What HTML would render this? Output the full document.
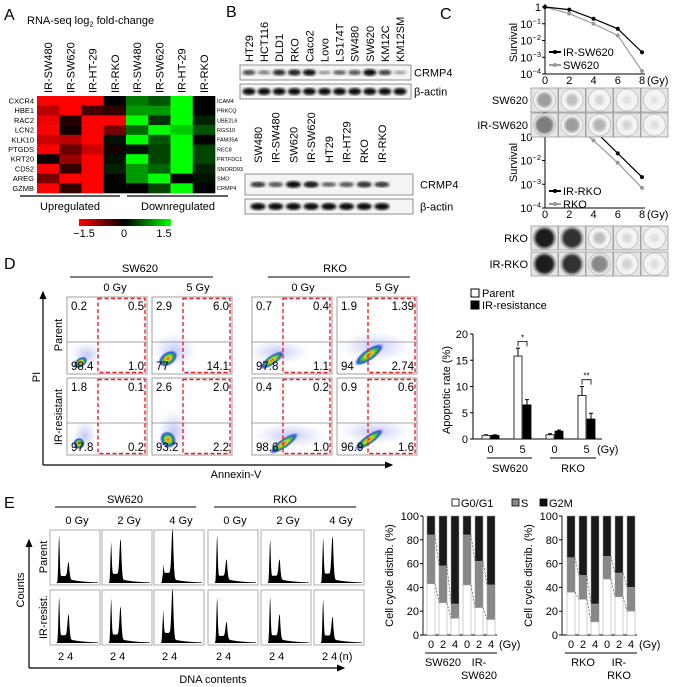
<!DOCTYPE html>
<html><head><meta charset="utf-8">
<style>
html,body{margin:0;padding:0;background:#fff;}
svg{display:block;font-family:"Liberation Sans",sans-serif;}
</style></head>
<body>
<svg id="fig" width="677" height="687" viewBox="0 0 677 687" xmlns="http://www.w3.org/2000/svg">
<defs>
<filter id="blur1"><feGaussianBlur stdDeviation="1.2"/></filter>
<filter id="blur2"><feGaussianBlur stdDeviation="2"/></filter>
<radialGradient id="flowg"><stop offset="0" stop-color="#e03010"/><stop offset="0.25" stop-color="#f0d020"/><stop offset="0.5" stop-color="#30c040"/><stop offset="0.75" stop-color="#3050e0"/><stop offset="1" stop-color="#8090f0" stop-opacity="0"/></radialGradient>
<radialGradient id="flowb"><stop offset="0" stop-color="#5060e0" stop-opacity="0.35"/><stop offset="1" stop-color="#8090f0" stop-opacity="0"/></radialGradient>
<linearGradient id="cbar" x1="0" x2="1"><stop offset="0" stop-color="#ff0000"/><stop offset="0.5" stop-color="#000"/><stop offset="1" stop-color="#00ff00"/></linearGradient>
<marker id="arr" markerWidth="8" markerHeight="8" refX="6" refY="4" orient="auto"><path d="M0,1 L7,4 L0,7 Z" fill="#000"/></marker>
</defs>
<g id="root"></g>
</svg>
<script>
// ===== Panel A data =====
const hmCols = ["IR-SW480","IR-SW620","IR-HT-29","IR-RKO","IR-SW480","IR-SW620","IR-HT-29","IR-RKO"];
const hmRowsUp = ["CXCR4","HBE1","RAC2","LCN2","KLK10","PTGDS","KRT20","CD52","AREG","GZMB"];
const hmRowsDown = ["ICAM4","PRKCQ","UBE2L6","RGS10","FAM35A","REC8","PRTFDC1","SNORD93","SMO","CRMP4"];
const hmValues = [
 [-1.5,-1.5,-1.5,0, 0.7,0.5,1.5,0],
 [-1.1,-1.5,-0.4,-0.3, 0.9,0.9,1.5,0],
 [-1.4,-0.2,-1.5,-1.5, 1.5,0.3,1.5,0.2],
 [-1.5,-0.1,-1.5,-0.7, 0.6,1.5,1.2,0.5],
 [-1.2,-1.1,-1.5,0.1, 1.5,0.5,1.5,0],
 [-1.5,-0.6,-1.2,-0.1, 0.1,0.4,1.5,0.4],
 [-0.1,-0.9,-1.5,0.1, 1.5,0.4,1.5,0.4],
 [-1.5,-0.3,-1.5,0.2, 0.9,0.6,1.5,0.2],
 [-0.7,-1.5,-1.5,0, 0.9,1.5,0,0.1],
 [-1.5,-0.3,-1.5,0, 0,0.4,1.5,0]
];
// ===== Panel B data =====
const blot1Lanes = ["HT29","HCT116","DLD1","RKO","Caco2","Lovo","LS174T","SW480","SW620","KM12C","KM12SM"];
const blot1Crmp4 = [0.6,0.35,0.75,0.8,0.9,0.25,0.5,0.55,0.95,0.65,0.2];
const blot2Lanes = ["SW480","IR-SW480","SW620","IR-SW620","HT29","IR-HT29","RKO","IR-RKO"];
const blot2Crmp4 = [0.7,0.55,0.95,0.85,0.5,0.55,0.75,0.7];
// ===== Panel C data =====
const doseGy = [0,2,4,6,8];
const survIRSW620 = [1,0.7,0.2,0.05,0.002];
const survSW620 = [1,0.4,0.1,0.02,0.00015];
const survIRRKO = [1,0.6,0.2,0.02,0.002];
const survRKO = [1,0.5,0.07,0.008,0.0007];
const plateSW620 = [0.35,0.2,0.1,0.05,0.03];
const plateIRSW620 = [0.5,0.35,0.25,0.1,0.05];
const plateRKO = [0.95,0.85,0.2,0.08,0.05];
const plateIRRKO = [0.95,0.85,0.45,0.12,0.06];
// ===== Panel D data =====
const flowQuadrants = [
 ["0.2","0.5","98.4","1.0"],["2.9","6.0","77","14.1"],["0.7","0.4","97.8","1.1"],["1.9","1.39","94","2.74"],
 ["1.8","0.1","97.8","0.2"],["2.6","2.0","93.2","2.2"],["0.4","0.2","98.6","1.0"],["0.9","0.6","96.9","1.6"]
];
const apoGroups = ["0","5","0","5"];
const apoParent = [0.7,15.8,0.8,8.3];
const apoParentErr = [0.1,1.5,0.2,1.7];
const apoIR = [0.7,6.5,1.5,3.8];
const apoIRErr = [0.1,1.0,0.2,1.1];
const apoTicks = [0,5,10,15,20];
// ===== Panel E data =====
const histG1 = [0.95,0.75,0.2,0.95,0.85,0.85, 0.9,0.85,0.55,0.9,0.9,0.85];
const histG2 = [0.3,0.75,0.95,0.35,0.35,0.8, 0.45,0.6,0.95,0.3,0.45,0.4];
const ccDoses = ["0","2","4"];
const ccG1Left = [43,27,14,42,23,13];
const ccSLeft = [41,31,12,42,39,29];
const ccG1Right = [36,30,11,47,32,20];
const ccSRight = [29,20,15,19,20,20];
const ccTicks = [0,20,40,60,80,100];

const NS="http://www.w3.org/2000/svg";
const root=document.getElementById('root');
const FS=11;
function mk(tag,attrs,parent){const e=document.createElementNS(NS,tag);for(const k in attrs)e.setAttribute(k,attrs[k]);(parent||root).appendChild(e);return e;}
function tx(x,y,s,size,extra){const e=mk('text',Object.assign({x:x,y:y,'font-size':size,fill:'#000'},extra||{}));e.textContent=s;return e;}
function rot(x,y,s,size,anchor){return tx(x,y,s,size,{transform:`rotate(-90 ${x} ${y})`,'text-anchor':anchor||'start'});}

// ---------- Panel A ----------
let el;
el=tx(4,20,"A",16);
el=tx(27,24,"",FS);el.innerHTML='RNA-seq log<tspan font-size="7.5" dy="2.5">2</tspan><tspan dy="-2.5"> fold-change</tspan>';

const hx0=37,hy0=96,cw=22.25,rh=9.7;
hmCols.forEach((c,i)=>{el=rot(hx0+cw*i+cw/2+4,93,c,FS,'start');});
function hmColor(v){const t=Math.min(1,Math.abs(v)/1.5);const c=Math.round(255*t);return v<0?`rgb(${c},0,0)`:`rgb(0,${c},0)`;}
hmValues.forEach((row,r)=>{row.forEach((v,c)=>{el=mk('rect',{x:hx0+cw*c,y:hy0+rh*r,width:cw+0.3,height:rh+0.3,fill:hmColor(v)});
});});
hmRowsUp.forEach((g,r)=>{el=tx(hx0-3,hy0+rh*r+rh/2+2.6,g,7.5,{'text-anchor':'end'});});
hmRowsDown.forEach((g,r)=>{el=tx(hx0+cw*8+2,hy0+rh*r+rh/2+2,g,5.5,{});});
el=mk('line',{x1:20,y1:196,x2:120,y2:196,stroke:'#000','stroke-width':1.2});
el=mk('line',{x1:127,y1:196,x2:228,y2:196,stroke:'#000','stroke-width':1.2});
el=tx(70,210,"Upregulated",FS,{'text-anchor':'middle'});
el=tx(178,210,"Downregulated",FS,{'text-anchor':'middle'});
el=mk('rect',{x:79,y:219,width:92,height:7,fill:'url(#cbar)'});
el=tx(84,237,"\u22121.5",FS,{'text-anchor':'middle'});
el=tx(124,237,"0",FS,{'text-anchor':'middle'});
el=tx(164,237,"1.5",FS,{'text-anchor':'middle'});

// ---------- Panel B ----------
el=tx(226,17,"B",16);
function blot(lanes,vals,x0,step,labelY,box1,box2,lx,bw){
 lanes.forEach((l,i)=>{el=rot(x0+step*i+4,labelY,l,FS,'start');});
 el=mk('rect',{x:box1[0],y:box1[1],width:box1[2],height:box1[3],fill:'#f4f4f4',stroke:'#777','stroke-width':0.8});
 el=mk('rect',{x:box2[0],y:box2[1],width:box2[2],height:box2[3],fill:'#f4f4f4',stroke:'#777','stroke-width':0.8});
 vals.forEach((v,i)=>{const g=Math.round(200-200*v);
  el=mk('ellipse',{cx:x0+step*i,cy:box1[1]+box1[3]/2,rx:bw,ry:1.5+2*v,fill:`rgb(${g},${g},${g})`,filter:'url(#blur1)'});
  el=mk('ellipse',{cx:x0+step*i,cy:box2[1]+box2[3]/2,rx:bw,ry:3.5,fill:'#111',filter:'url(#blur1)'});});
 el=tx(lx,box1[1]+box1[3]/2+4,"CRMP4",FS);
 el=tx(lx,box2[1]+box2[3]/2+4,"\u03b2-actin",FS);
}
blot(blot1Lanes,blot1Crmp4,249,15.1,62,[240,65,171,15],[240,84,171,15],414,6.5);
blot(blot2Lanes,blot2Crmp4,258,17.7,163,[245,174,168,21],[245,199,168,15],420,7.5);

// ---------- Panel C ----------
el=tx(440,19,"C",16);
function survPlot(top,bot,s1,s2,n1,n2,legY){
 const X=d=>545+d/8*97, Y=v=>top+(-Math.log10(v))/4*(bot-top);
 el=mk('path',{d:`M545,${top-3} L545,${bot} L645,${bot}`,fill:'none',stroke:'#000','stroke-width':1});
 for(let k=0;k<=4;k++){el=mk('line',{x1:542,y1:Y(Math.pow(10,-k)),x2:545,y2:Y(Math.pow(10,-k)),stroke:'#000'});
  el=tx(541,Y(Math.pow(10,-k))+4,"",FS,{'text-anchor':'end'});el.innerHTML=k===0?'1':`10<tspan font-size="7.5" dy="-4.5">\u2212${k}</tspan>`;}
 doseGy.forEach(d=>{el=tx(X(d),bot+10,String(d),FS,{'text-anchor':'middle'});});
 el=tx(X(8)+5,bot+10,"(Gy)",FS);
 el=rot(517,(top+bot)/2+2,"Survival",FS,'middle');
 [[s2,'#999',n2],[s1,'#000',n1]].forEach(([s,c,n])=>{
  el=mk('polyline',{points:s.map((v,i)=>`${X(doseGy[i])},${Y(v)}`).join(' '),fill:'none',stroke:c,'stroke-width':1.2});
  s.forEach((v,i)=>{el=mk('circle',{cx:X(doseGy[i]),cy:Y(v),r:2,fill:c});});});
 [[n1,'#000',legY],[n2,'#999',legY+13]].forEach(([n,c,y])=>{
  el=mk('line',{x1:549,y1:y,x2:561,y2:y,stroke:c,'stroke-width':2});
  el=mk('circle',{cx:555,cy:y,r:2,fill:c});
  el=tx(563,y+4,n,FS);});
}
survPlot(7,74,survIRSW620,survSW620,"IR-SW620","SW620",52);
survPlot(113,208,survIRRKO,survRKO,"IR-RKO","RKO",191);
function plates(y,vals,label){
 el=tx(528,y+16,label,FS,{'text-anchor':'end'});
 vals.forEach((v,i)=>{const x=531+i*27.5;
  el=mk('rect',{x:x,y:y,width:27,height:24,fill:'#e6e6e6',stroke:'#999','stroke-width':0.8});
  el=mk('circle',{cx:x+13.5,cy:y+12,r:11,fill:'#f4f4f4',stroke:'#aaa','stroke-width':0.6});
  const g=Math.round(235-220*v);
  el=mk('circle',{cx:x+13.5,cy:y+12,r:10*Math.min(1,0.4+v),fill:`rgb(${g},${g},${g})`,filter:'url(#blur1)'});});
}
plates(88,plateSW620,"SW620");plates(113,plateIRSW620,"IR-SW620");
plates(226,plateRKO,"RKO");plates(252,plateIRRKO,"IR-RKO");

// ---------- Panel D ----------
el=tx(4,269,"D",16);
el=tx(140,272,"SW620",FS,{'text-anchor':'middle'});
el=mk('line',{x1:70,y1:277,x2:213,y2:277,stroke:'#000'});
el=tx(335,272,"RKO",FS,{'text-anchor':'middle'});
el=mk('line',{x1:268,y1:277,x2:410,y2:277,stroke:'#000'});
[[115,"0 Gy"],[198,"5 Gy"],[303,"0 Gy"],[387,"5 Gy"]].forEach(([x,s])=>{el=tx(x,291,s,FS,{'text-anchor':'middle'});});
const flowX=[67,152,252,337], flowY=[297,378];
const blobPos=[[0.12,0.85,8,5],[0.15,0.8,11,7],[0.2,0.82,15,5],[0.35,0.75,18,6],[0.1,0.85,6,6],[0.15,0.8,8,9],[0.35,0.85,18,5],[0.35,0.8,18,5]];
flowQuadrants.forEach((q,k)=>{const x=flowX[k%4],y=flowY[Math.floor(k/4)],w=80,h=77;
 el=mk('rect',{x:x,y:y,width:w,height:h,fill:'#fff',stroke:'#888','stroke-width':0.8});
 const b=blobPos[k];
 el=mk('ellipse',{cx:x+w*b[0]+10,cy:y+h*b[1]-8,rx:b[2]*2,ry:b[3]*2.5,fill:'url(#flowb)'});
 el=mk('ellipse',{cx:x+w*b[0]+4,cy:y+h*b[1],rx:b[2],ry:b[3],fill:'url(#flowg)',transform:`rotate(-35 ${x+w*b[0]+4} ${y+h*b[1]})`});
 el=mk('line',{x1:x,y1:y+45,x2:x+w,y2:y+45,stroke:'#888','stroke-width':0.7});
 el=mk('rect',{x:x+31,y:y+1.5,width:w-33,height:h-3,fill:'none',stroke:'#e8202a','stroke-width':1.4,'stroke-dasharray':'4,2.5'});
 el=tx(x+4,y+13,q[0],11.5);
 el=tx(x+77,y+13,q[1],11.5,{'text-anchor':'end'});
 el=tx(x+4,y+73,q[2],11.5);
 el=tx(x+77,y+73,q[3],11.5,{'text-anchor':'end'});});
el=mk('path',{d:'M43,465 L43,292',fill:'none',stroke:'#000','stroke-width':1.2,'marker-end':'url(#arr)'});
el=mk('path',{d:'M43,465 L392,465',fill:'none',stroke:'#000','stroke-width':1.2,'marker-end':'url(#arr)'});
el=rot(40,377,"PI",FS,'middle');
el=rot(62,335,"Parent",FS,'middle');
el=rot(62,417,"IR-resistant",FS,'middle');
el=tx(236,478,"Annexin-V",FS,{'text-anchor':'middle'});
// apoptosis bar chart
el=mk('rect',{x:471,y:289,width:8,height:8,fill:'#fff',stroke:'#000'});
el=tx(482,297,"Parent",FS);
el=mk('rect',{x:471,y:301,width:8,height:8,fill:'#000',stroke:'#000'});
el=tx(482,309,"IR-resistance",FS);
const AY=v=>439-v/20*105;
el=mk('path',{d:`M473,${AY(20)} L473,${AY(0)} L602,${AY(0)}`,fill:'none',stroke:'#000'});
apoTicks.forEach(t=>{el=mk('line',{x1:470,y1:AY(t),x2:473,y2:AY(t),stroke:'#000'});
 el=tx(468,AY(t)+4,String(t),FS,{'text-anchor':'end'});});
el=rot(450,390,"Apoptotic rate (%)",FS,'middle');
const gx=[482,514,546,578];
apoGroups.forEach((g,i)=>{
 [[apoParent[i],apoParentErr[i],gx[i],'#fff'],[apoIR[i],apoIRErr[i],gx[i]+9,'#000']].forEach(([v,e,x,f])=>{
  el=mk('line',{x1:x+4,y1:AY(v),x2:x+4,y2:AY(v+e),stroke:'#000'});
  el=mk('line',{x1:x+2,y1:AY(v+e),x2:x+6,y2:AY(v+e),stroke:'#000'});
  el=mk('rect',{x:x,y:AY(v),width:8,height:AY(0)-AY(v),fill:f,stroke:'#000','stroke-width':0.8});});
 el=tx(gx[i]+8.5,453,g,FS,{'text-anchor':'middle'});});
el=tx(597,453,"(Gy)",FS);
el=mk('line',{x1:487,y1:458,x2:532,y2:458,stroke:'#000'});
el=mk('line',{x1:550,y1:458,x2:596,y2:458,stroke:'#000'});
el=tx(510,472,"SW620",FS,{'text-anchor':'middle'});
el=tx(573,472,"RKO",FS,{'text-anchor':'middle'});
function sig(x1,x2,v,s){const y=AY(v);el=mk('path',{d:`M${x1},${y+5} L${x1},${y} L${x2},${y} L${x2},${y+5}`,fill:'none',stroke:'#000','stroke-width':0.8});
 el=tx((x1+x2)/2,y-1,s,8,{'text-anchor':'middle'});}
sig(518,527,apoParent[1]+apoParentErr[1]+1.3,"*");sig(582,591,apoParent[3]+apoParentErr[3]+1.3,"**");

// ---------- Panel E ----------
el=tx(4,508,"E",16);
el=tx(125,503,"SW620",FS,{'text-anchor':'middle'});
el=mk('line',{x1:55,y1:507,x2:196,y2:507,stroke:'#000'});
el=tx(285,503,"RKO",FS,{'text-anchor':'middle'});
el=mk('line',{x1:214,y1:507,x2:356,y2:507,stroke:'#000'});
const hX=[50,102,154,208,261,314];
["0 Gy","2 Gy","4 Gy","0 Gy","2 Gy","4 Gy"].forEach((s,i)=>{el=tx(hX[i]+27,524,s,FS,{'text-anchor':'middle'});});
histG1.forEach((g1,k)=>{const x=hX[k%6],y=k<6?530:590,w=50,h=55,g2=histG2[k];
 el=mk('rect',{x:x,y:y,width:w,height:h,fill:'#fff',stroke:'#999','stroke-width':0.8});
 let pts=[];for(let i=0;i<=100;i++){const xx=4+i*0.44;const f=g1*Math.exp(-Math.pow((xx-9)/0.9,2))+g2*Math.exp(-Math.pow((xx-18.5)/1.4,2))+(xx>9&&xx<19?0.12+0.1*g2:0)+(xx>=19?0.08*Math.exp(-(xx-19)/15):0);
  pts.push(`${x+xx},${y+h-2-f*(h-8)}`);}
 el=mk('path',{d:`M${x+4},${y+h-2} L${pts.join(' L')} L${x+48},${y+h-2} Z`,fill:'#000'});
 if(k>=6){el=tx(x+8,y+70,"2 4",FS);}});
el=tx(339,660,"(n)",FS);
el=mk('path',{d:'M29,668 L29,540',fill:'none',stroke:'#000','stroke-width':1.2,'marker-end':'url(#arr)'});
el=mk('path',{d:'M29,668 L344,668',fill:'none',stroke:'#000','stroke-width':1.2,'marker-end':'url(#arr)'});
el=rot(24,590,"Counts",FS,'middle');
el=rot(47,557,"Parent",FS,'middle');
el=rot(47,617,"IR-resist.",FS,'middle');
el=tx(213,683,"DNA contents",FS,{'text-anchor':'middle'});
// legend
[[452,'#fff',"G0/G1"],[512,'#888',"S"],[540,'#111',"G2M"]].forEach(([x,f,s])=>{
 el=mk('rect',{x:x,y:499,width:7,height:7,fill:f,stroke:'#000','stroke-width':0.8});
 el=tx(x+9,507,s,FS);});
function ccChart(ax,bx,g1,s,labels){
 const Y=v=>635-v/100*119;
 el=mk('path',{d:`M${ax},${Y(100)} L${ax},${Y(0)} L${bx[5]+10},${Y(0)}`,fill:'none',stroke:'#000','stroke-width':0.9});
 ccTicks.forEach(t=>{el=mk('line',{x1:ax-3,y1:Y(t),x2:ax,y2:Y(t),stroke:'#000'});
  el=tx(ax-4,Y(t)+4,String(t),FS,{'text-anchor':'end'});});
 el=rot(ax-30,Y(50),"Cell cycle distrib. (%)",FS,'middle');
 g1.forEach((v,i)=>{const x=bx[i],w=8;
  el=mk('rect',{x:x,y:Y(100),width:w,height:Y(v+s[i])-Y(100),fill:'#1a1a1a',stroke:'#999','stroke-width':0.5});
  el=mk('rect',{x:x,y:Y(v+s[i]),width:w,height:Y(v)-Y(v+s[i]),fill:'#888',stroke:'#999','stroke-width':0.5});
  el=mk('rect',{x:x,y:Y(v),width:w,height:Y(0)-Y(v),fill:'#fff',stroke:'#999','stroke-width':0.5});
  el=tx(x+4,648,ccDoses[i%3],FS,{'text-anchor':'middle'});
  if(i%3<2){el=mk('path',{d:`M${x+w},${Y(v)} L${bx[i+1]},${Y(g1[i+1])} M${x+w},${Y(v+s[i])} L${bx[i+1]},${Y(g1[i+1]+s[i+1])}`,stroke:'#555','stroke-width':0.7,'stroke-dasharray':'2,1.5',fill:'none'});}});
 el=tx(bx[5]+12,648,"(Gy)",FS);
 [0,3].forEach((j,n)=>{el=mk('line',{x1:bx[j]-2,y1:653,x2:bx[j+2]+10,y2:653,stroke:'#000'});
  const lines=labels[n];lines.forEach((L,m)=>{el=tx((bx[j]+bx[j+2]+8)/2,666+m*13,L,FS,{'text-anchor':'middle'});});});
}
ccChart(423,[427,439,451,463,475,487],ccG1Left,ccSLeft,[["SW620"],["IR-","SW620"]]);
ccChart(562,[567,579,591,603,615,627],ccG1Right,ccSRight,[["RKO"],["IR-","RKO"]]);
</script>
</body></html>
